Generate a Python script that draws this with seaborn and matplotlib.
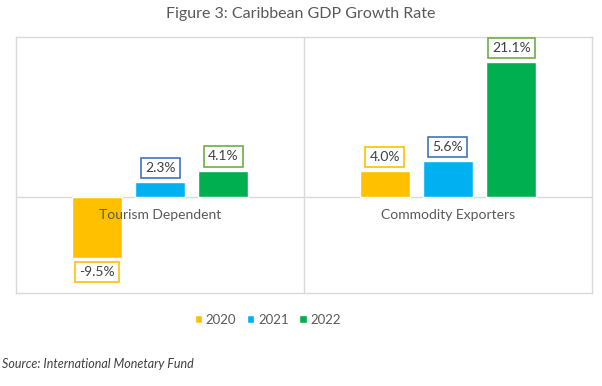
import matplotlib
matplotlib.use("Agg")
import matplotlib.pyplot as plt
import matplotlib.transforms as mtransforms
import seaborn as sns
import pandas as pd

# data
groups = ["Tourism Dependent", "Commodity Exporters"]
years = ["2020", "2021", "2022"]
growth_2020 = [-9.5, 4.0]
growth_2021 = [2.3, 5.6]
growth_2022 = [4.1, 21.1]

bar_colors = ["#FFC000", "#00B0F0", "#00B050"]
box_colors = ["#FFC000", "#4472C4", "#70AD47"]

rows = []
for yr, vals in zip(years, [growth_2020, growth_2021, growth_2022]):
    for g, v in zip(groups, vals):
        rows.append({"group": g, "year": yr, "growth": v})
df = pd.DataFrame(rows)

sns.set_style("white")
plt.rcParams['font.family'] = ['Lato', 'DejaVu Sans']

fig = plt.figure(figsize=(6.02, 3.86), dpi=100)
ax = fig.add_axes([0.027, 0.241, 0.956, 0.663])

sns.barplot(data=df, x="group", y="growth", hue="year", order=groups,
            hue_order=years, palette=bar_colors, width=0.66, gap=0.21,
            saturation=1, ax=ax, legend=True)

ax.set_ylim(-15, 25)
ax.set_xlim(-0.5, 1.5)

# zero line and category divider
ax.axhline(0, color="#D9D9D9", lw=1, zorder=0)
ax.axvline(0.5, color="#D9D9D9", lw=1, zorder=0)
for s in ax.spines.values():
    s.set_color("#D9D9D9")
    s.set_linewidth(1)

ax.set_yticks([])
ax.set_xticks([])
ax.set_xlabel("")
ax.set_ylabel("")

# category labels sit just under the zero line
trans = mtransforms.offset_copy(ax.transData, fig=fig, x=0, y=-13, units="points")
for i, g in enumerate(groups):
    ax.text(i, 0, g, transform=trans, ha="center", va="center",
            fontsize=10, color="#595959")

# boxed value labels
for cont, ec in zip(ax.containers, box_colors):
    labels = [f"{b.get_height():.1f}%" for b in cont]
    ax.bar_label(cont, labels=labels, padding=6, fontsize=10, color="#404040",
                 bbox=dict(boxstyle="square,pad=0.3", fc="white", ec=ec, lw=1.2))

handles, leg_labels = ax.get_legend_handles_labels()
ax.legend_.remove()
fig.legend(handles, leg_labels, loc="center", bbox_to_anchor=(0.445, 0.171),
           ncol=3, frameon=False, handlelength=0.55, handleheight=0.55,
           handletextpad=0.3, columnspacing=0.8, fontsize=9.5,
           labelcolor="#595959")

fig.text(0.5, 0.963, "Figure 3: Caribbean GDP Growth Rate", ha="center",
         va="center", fontsize=11.5, color="#595959")
fig.text(0.003, 0.057, "Source: International Monetary Fund", ha="left",
         va="center", fontsize=9, style="italic", color="#404040")

fig.savefig("out.png", dpi=100)
